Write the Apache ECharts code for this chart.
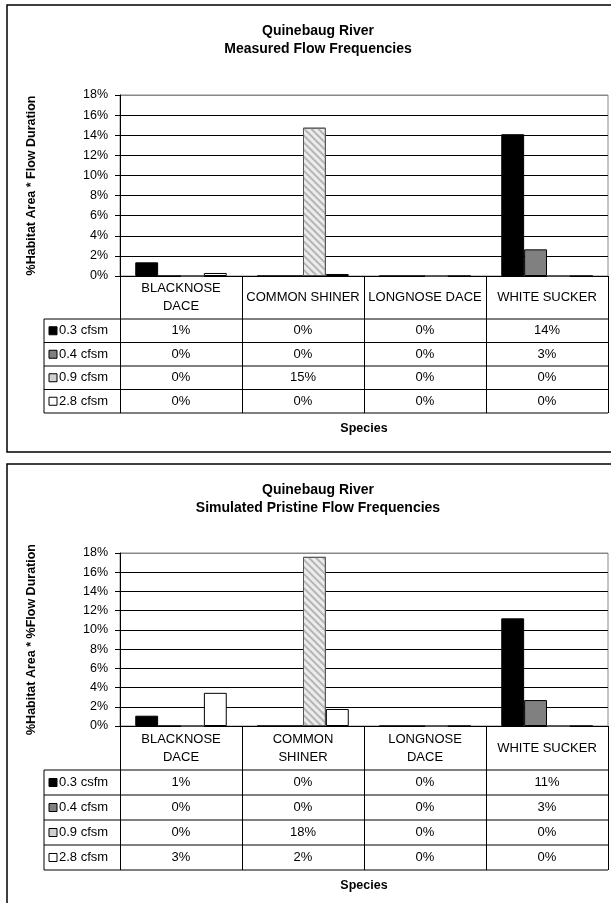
<!DOCTYPE html>
<html>
<head>
<meta charset="utf-8">
<script src="https://cdn.jsdelivr.net/npm/echarts@6/dist/echarts.min.js"></script>
<style>
  html, body { margin: 0; padding: 0; background: #fff; }
  #main { width: 611px; height: 903px; }
</style>
</head>
<body>
<div id="main"></div>
<script>
// species (header row of each table)
const categoriesTop = ['BLACKNOSE\nDACE', 'COMMON SHINER', 'LONGNOSE DACE', 'WHITE SUCKER'];
const categoriesBottom = ['BLACKNOSE\nDACE', 'COMMON\nSHINER', 'LONGNOSE\nDACE', 'WHITE SUCKER'];

// flow levels
const flowsTop = ['0.3 cfsm', '0.4 cfsm', '0.9 cfsm', '2.8 cfsm'];
const flowsBottom = ['0.3 csfm', '0.4 cfsm', '0.9 cfsm', '2.8 cfsm'];

// measured flow frequencies (%)
const measured03 = [1.36, 0, 0, 14.1];
const measured04 = [0, 0, 0, 2.65];
const measured09 = [0, 14.75, 0, 0];
const measured28 = [0.3, 0.2, 0, 0];

// simulated pristine flow frequencies (%)
const pristine03 = [1.07, 0, 0, 11.2];
const pristine04 = [0, 0, 0, 2.7];
const pristine09 = [0, 17.6, 0, 0];
const pristine28 = [3.45, 1.77, 0, 0];

const yMin = 0, yMax = 18, yStep = 2;

const FONT = '"Liberation Sans", Arial, sans-serif';

const barStyles = [
    {color: '#000000', borderColor: '#000000', borderWidth: 1},
    {color: '#808080', borderColor: '#000000', borderWidth: 1},
    {color: '#ececec', borderColor: '#555555', borderWidth: 1,
        decal: {symbol: 'rect', symbolSize: 1, dashArrayX: [[1, 0]], dashArrayY: [2, 3],
            rotation: Math.PI / 4, color: '#b5b5b5'}},
    {color: '#ffffff', borderColor: '#000000', borderWidth: 1}
];
const keyFills = ['#000000', '#808080', '#d0d0d0', '#ffffff'];

// layout of the two panels
const panels = [
    {top: 5, title: 'Quinebaug River\nMeasured Flow Frequencies', yName: '%Habitat Area * Flow Duration',
        gridTop: 95, gridH: 181, headH: 43, rowH: 23.5,
        cats: categoriesTop, flows: flowsTop, data: [measured03, measured04, measured09, measured28]},
    {top: 464, title: 'Quinebaug River\nSimulated Pristine Flow Frequencies', yName: '%Habitat Area * %Flow Duration',
        gridTop: 553, gridH: 173, headH: 44, rowH: 25,
        cats: categoriesBottom, flows: flowsBottom, data: [pristine03, pristine04, pristine09, pristine28]}
];
const gridLeft = 120, gridW = 488, keyLeft = 44;

const option = {
    animation: false,
    backgroundColor: '#fff',
    title: [], grid: [], xAxis: [], yAxis: [], series: [], graphic: []
};

const splitColors = [];
for (let v = yMin; v <= yMax; v += yStep) splitColors.push(v === yMax ? '#888' : '#000');

panels.forEach(function (p, gi) {
    option.title.push({
        text: p.title, left: 313, top: p.top + 12, textAlign: 'center',
        textStyle: {fontFamily: FONT, fontSize: 14, fontWeight: 'bold', lineHeight: 18, color: '#000'}
    });
    option.grid.push({
        left: gridLeft, top: p.gridTop, width: gridW, height: p.gridH,
        show: true, borderColor: '#888', borderWidth: 1, backgroundColor: 'transparent'
    });
    const tableH = p.headH + 4 * p.rowH;
    option.xAxis.push({
        type: 'category', gridIndex: gi, data: p.cats,
        axisLine: {lineStyle: {color: '#000', width: 1}},
        axisTick: {show: true, interval: 0, length: tableH, lineStyle: {color: '#000'}},
        axisLabel: {interval: 0, margin: p.headH / 2, verticalAlign: 'middle', lineHeight: 18,
            fontFamily: FONT, fontSize: 13, color: '#000'},
        name: 'Species', nameLocation: 'middle', nameGap: tableH + 9,
        nameTextStyle: {fontFamily: FONT, fontSize: 12.5, fontWeight: 'bold', color: '#000'}
    });
    option.yAxis.push({
        type: 'value', gridIndex: gi, min: yMin, max: yMax, interval: yStep,
        axisLine: {show: true, lineStyle: {color: '#000'}},
        axisTick: {show: true, length: 5, lineStyle: {color: '#000'}},
        axisLabel: {formatter: '{value}%', margin: 12, fontFamily: FONT, fontSize: 12.5, color: '#000'},
        splitLine: {lineStyle: {color: splitColors, width: 1}},
        name: p.yName, nameLocation: 'middle', nameGap: 82,
        nameTextStyle: {fontFamily: FONT, fontSize: 12.5, fontWeight: 'bold', color: '#000'}
    });
    p.data.forEach(function (arr, si) {
        option.series.push({
            type: 'bar', name: p.flows[si], xAxisIndex: gi, yAxisIndex: gi,
            data: arr, barGap: '0%', barCategoryGap: '25%',
            itemStyle: barStyles[si]
        });
    });

    // data table under the axis
    const y0 = p.gridTop + p.gridH;
    const yRows = y0 + p.headH;
    const right = gridLeft + gridW;
    const colW = gridW / p.cats.length;
    const g = option.graphic;
    g.push({type: 'rect', shape: {x: 7, y: p.top, width: 640, height: gi === 0 ? 447 : 480},
        style: {fill: null, stroke: '#000', lineWidth: 1.5}, silent: true});
    for (let j = 0; j <= 4; j++) {
        g.push({type: 'line', shape: {x1: keyLeft, y1: yRows + j * p.rowH, x2: right, y2: yRows + j * p.rowH},
            style: {stroke: '#000', lineWidth: 1}, silent: true});
    }
    g.push({type: 'line', shape: {x1: keyLeft, y1: yRows, x2: keyLeft, y2: yRows + 4 * p.rowH},
        style: {stroke: '#000', lineWidth: 1}, silent: true});
    p.flows.forEach(function (f, si) {
        const cy = yRows + (si + 0.5) * p.rowH;
        g.push({type: 'rect', shape: {x: keyLeft + 5, y: cy - 4, width: 8, height: 8},
            style: {fill: keyFills[si], stroke: '#000', lineWidth: 1}, silent: true});
        g.push({type: 'text', style: {text: f, x: keyLeft + 15, y: cy, textVerticalAlign: 'middle',
            textAlign: 'left', font: '13px ' + FONT, fill: '#000'}, silent: true});
        p.data[si].forEach(function (v, ci) {
            g.push({type: 'text', style: {text: Math.round(v) + '%', x: gridLeft + (ci + 0.5) * colW, y: cy,
                textAlign: 'center', textVerticalAlign: 'middle', font: '13px ' + FONT, fill: '#000'}, silent: true});
        });
    });
});

const chart = echarts.init(document.getElementById('main'), null, {renderer: 'canvas'});
chart.setOption(option);
</script>
</body>
</html>
